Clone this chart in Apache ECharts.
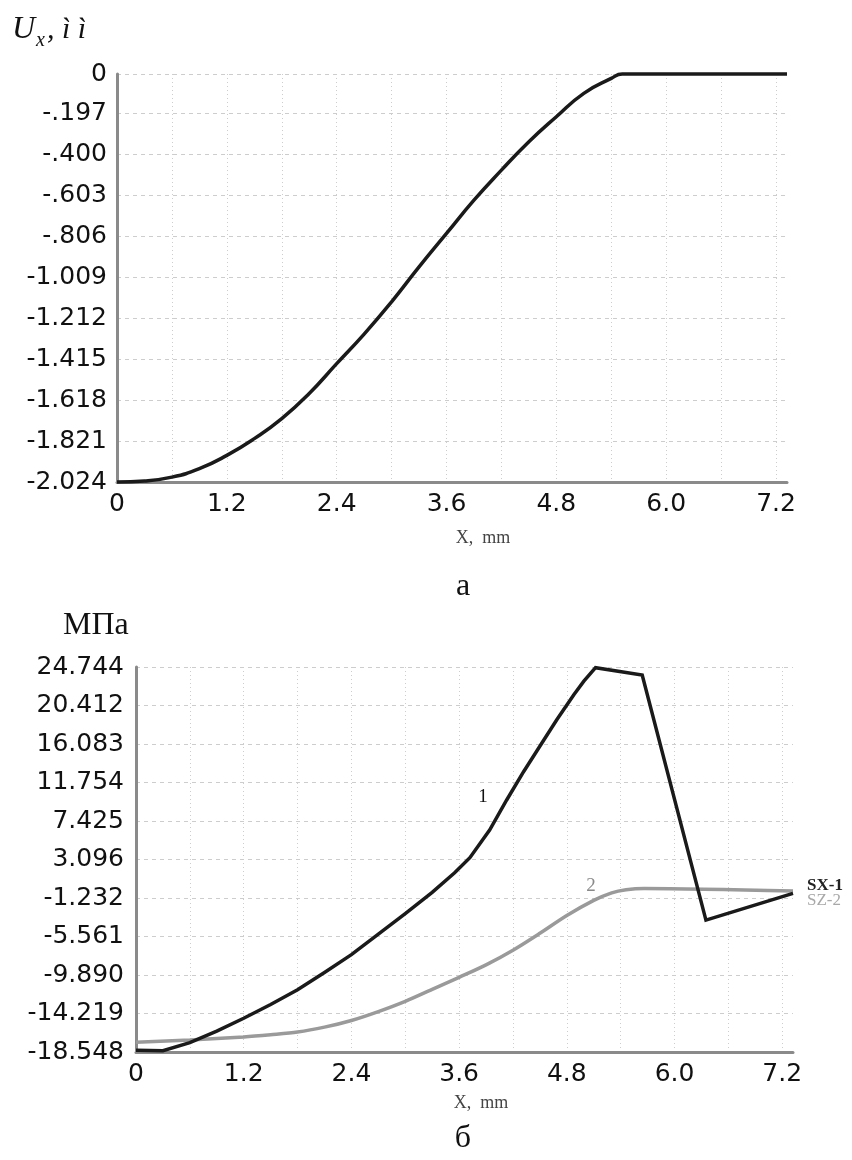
<!DOCTYPE html>
<html><head><meta charset="utf-8">
<script src="https://cdn.jsdelivr.net/npm/echarts@6/dist/echarts.min.js"></script>
<style>html,body{margin:0;padding:0;background:#fff}#c{width:852px;height:1160px}</style>
</head><body><div id="c"></div>
<script>
// ---- data ----
const topX = [0, 0.3, 0.6, 0.9, 1.2, 1.5, 1.8, 2.1, 2.4, 2.7, 3.0, 3.3, 3.6, 3.9, 4.2, 4.5, 4.8, 5.1, 5.4, 5.52, 7.32];
const topU = [-2.024, -2.019, -2.000, -1.958, -1.892, -1.809, -1.710, -1.585, -1.437, -1.290, -1.130, -0.957, -0.791, -0.626, -0.477, -0.336, -0.212, -0.096, -0.022, 0, 0];

const sx1X = [0, 0.3, 0.6, 0.9, 1.2, 1.5, 1.8, 2.1, 2.4, 2.7, 3.0, 3.3, 3.55, 3.72, 3.94, 4.13, 4.32, 4.51, 4.69, 4.88, 4.99, 5.12, 5.64, 6.35, 7.32];
const sx1 = [-18.36, -18.4, -17.5, -16.2, -14.75, -13.2, -11.55, -9.6, -7.6, -5.3, -3.0, -0.6, 1.6, 3.3, 6.41, 9.79, 13.0, 16.0, 18.84, 21.66, 23.16, 24.67, 23.84, -3.72, -0.71];

const sz2X = [0, 0.6, 1.2, 1.5, 1.8, 2.1, 2.4, 2.7, 3.0, 3.3, 3.6, 3.9, 4.2, 4.5, 4.8, 5.1, 5.3, 5.46, 5.66, 7.32];
const sz2 = [-17.45, -17.2, -16.85, -16.6, -16.3, -15.75, -15.0, -14.0, -12.85, -11.5, -10.15, -8.75, -7.1, -5.2, -3.2, -1.5, -0.65, -0.3, -0.15, -0.45];

const topYLabels = ['-2.024', '-1.821', '-1.618', '-1.415', '-1.212', '-1.009', '-.806', '-.603', '-.400', '-.197', '0'];
const botYLabels = ['-18.548', '-14.219', '-9.890', '-5.561', '-1.232', '3.096', '7.425', '11.754', '16.083', '20.412', '24.744'];
const xLabels = ['0', '1.2', '2.4', '3.6', '4.8', '6.0', '7.2'];
const xGrid = [0, 0.6, 1.2, 1.8, 2.4, 3.0, 3.6, 4.2, 4.8, 5.4, 6.0, 6.6, 7.2];
const xMax = 7.32;

// ---- helpers ----
function nearestLabel(labels) {
  return function (v) {
    let best = 0, d = Infinity;
    labels.forEach(function (s, i) { const dd = Math.abs(Number(s) - v); if (dd < d) { d = dd; best = i; } });
    return labels[best];
  };
}
const axisLine = { show: true, onZero: false, lineStyle: { color: '#8a8a8a', width: 3 } };
const labelFont = { fontFamily: 'DejaVu Sans', fontSize: 25, color: '#111' };

function xAxisCfg(gridIndex) {
  return {
    type: 'value', gridIndex: gridIndex, min: 0, max: xMax,
    axisLine: axisLine,
    axisTick: { show: false, customValues: xGrid },
    axisLabel: Object.assign({ customValues: xLabels.map(Number), margin: 10, formatter: nearestLabel(xLabels) }, labelFont),
    splitLine: { show: true, lineStyle: { color: '#cdcdcd', width: 1, type: [1, 3] } }
  };
}
function yAxisCfg(gridIndex, labels, margin) {
  const vals = labels.map(Number);
  return {
    type: 'value', gridIndex: gridIndex, min: vals[0], max: vals[vals.length - 1],
    axisLine: axisLine,
    axisTick: { show: false, customValues: vals },
    axisLabel: Object.assign({ customValues: vals, margin: margin, formatter: nearestLabel(labels) }, labelFont),
    splitLine: { show: true, lineStyle: { color: '#cdcdcd', width: 1, type: [4, 4] } }
  };
}
function txt(x, y, text, font, fill, align) {
  return { type: 'text', x: x, y: y, style: { text: text, font: font, fill: fill, textAlign: align || 'left', align: align || 'left', textVerticalAlign: 'middle', verticalAlign: 'middle' } };
}

const chart = echarts.init(document.getElementById('c'), null, { renderer: 'canvas' });
chart.setOption({
  backgroundColor: '#fff',
  animation: false,
  grid: [
    { left: 117, top: 74, width: 670, height: 408 },
    { left: 136, top: 667, width: 657, height: 385 }
  ],
  xAxis: [xAxisCfg(0), xAxisCfg(1)],
  yAxis: [yAxisCfg(0, topYLabels, 10), yAxisCfg(1, botYLabels, 12)],
  series: [
    {
      name: 'Ux', type: 'line', xAxisIndex: 0, yAxisIndex: 0,
      data: topX.map(function (x, i) { return [x, topU[i]]; }),
      symbol: 'none', smooth: 0.5, clip: false,
      lineStyle: { color: '#1a1a1a', width: 3.5 }
    },
    {
      name: 'SZ-2', type: 'line', xAxisIndex: 1, yAxisIndex: 1,
      data: sz2X.map(function (x, i) { return [x, sz2[i]]; }),
      symbol: 'none', smooth: 0.3, clip: false,
      lineStyle: { color: '#9a9a9a', width: 3.5 },
      endLabel: { show: true, formatter: 'SZ-2', distance: 14, offset: [0, 9], fontFamily: 'Liberation Serif', fontSize: 17, color: '#a8a8a8' }
    },
    {
      name: 'SX-1', type: 'line', xAxisIndex: 1, yAxisIndex: 1,
      data: sx1X.map(function (x, i) { return [x, sx1[i]]; }),
      symbol: 'none', smooth: false, clip: false,
      lineStyle: { color: '#1a1a1a', width: 3.5, join: 'miter' },
      endLabel: { show: true, formatter: 'SX-1', distance: 14, offset: [0, -8], fontFamily: 'Liberation Serif', fontWeight: 'bold', fontSize: 17, color: '#222' }
    }
  ],
  graphic: { elements: [
    txt(12, 29.5, 'U', 'italic 32px "Liberation Serif"', '#111'),
    txt(36, 41, 'x', 'italic 20px "Liberation Serif"', '#111'),
    txt(47, 30, ', ì ì', 'italic 30px "Liberation Serif"', '#111'),
    txt(483, 538, 'X,  mm', '18px "Liberation Serif"', '#444', 'center'),
    txt(463, 587, 'а', '32px "Liberation Serif"', '#111', 'center'),
    txt(63, 626, 'МПа', '32px "Liberation Serif"', '#111'),
    txt(483, 797, '1', '19px "Liberation Serif"', '#111', 'center'),
    txt(591, 886, '2', '19px "Liberation Serif"', '#8a8a8a', 'center'),
    txt(481, 1103, 'X,  mm', '18px "Liberation Serif"', '#444', 'center'),
    txt(463, 1139, 'б', '32px "Liberation Serif"', '#111', 'center')
  ] }
});
</script>
</body></html>
